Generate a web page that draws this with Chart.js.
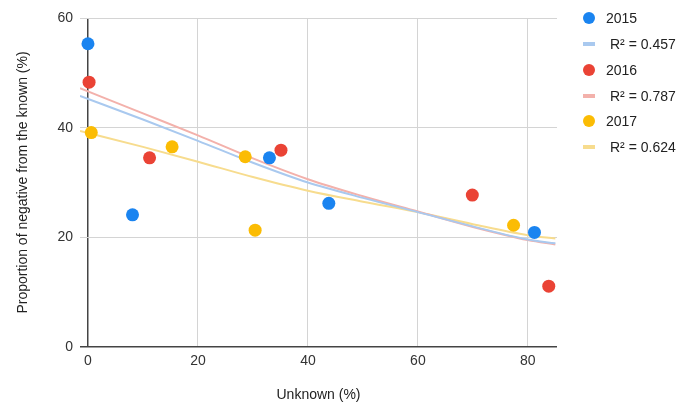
<!DOCTYPE html>
<html>
<head>
<meta charset="utf-8">
<script src="https://cdn.jsdelivr.net/npm/chart.js@4/dist/chart.umd.min.js"></script>
<style>
  body { margin: 0; background: #fff; font-family: 'Liberation Sans', Arial, sans-serif; }
  #wrap { position: relative; width: 677px; height: 406px; }
  #legend { position: absolute; left: 580px; top: 0; font-size: 14px; color: #222; }
  .item { position: absolute; white-space: nowrap; height: 20px; line-height: 20px; }
  .dot { position: absolute; left: 3px; top: 4px; width: 12px; height: 12px; border-radius: 50%; }
  .bar { position: absolute; left: 3px; top: 8px; width: 12px; height: 4px; }
  .lbl { position: absolute; left: 26px; }
  .lbl2 { position: absolute; left: 30px; }
</style>
</head>
<body>
<div id="wrap">
  <canvas id="myChart" width="677" height="406"></canvas>
  <div id="legend"></div>
</div>
<script>
// data
const years = ['2015', '2016', '2017']
const r2 = ['0.457', '0.787', '0.624']

const x2015 = [0, 8.1, 33.0, 43.8, 81.2]
const y2015 = [55.3, 24.1, 34.5, 26.2, 20.9]
const x2016 = [0.2, 11.2, 35.1, 69.9, 83.8]
const y2016 = [48.3, 34.5, 35.9, 27.7, 11.1]
const x2017 = [0.6, 15.3, 28.6, 30.4, 77.4]
const y2017 = [39.1, 36.5, 34.7, 21.3, 22.2]

// trendlines
const trendX = [-1.45, 10, 20, 30, 40, 50, 60, 70, 80, 85]
const trend2015 = [45.8, 41.5, 37.6, 33.6, 30.0, 27.2, 24.6, 22.0, 19.6, 18.9]
const trend2016 = [47.2, 42.6, 38.6, 34.4, 30.6, 27.5, 24.7, 21.9, 19.5, 18.7]
const trend2017 = [39.4, 36.5, 33.8, 31.0, 28.5, 26.5, 24.6, 22.4, 20.4, 19.8]

const xTicks = [0, 20, 40, 60, 80]
const yTicks = [0, 20, 40, 60]

const dotColors = ['#1a84f0', '#ea4335', '#fbbc04']
const trendColors = ['#a9c9ef', '#f3b1ab', '#f7dc8e']

let pts = (xs, ys) => xs.map((x, i) => ({ x: x, y: ys[i] }))

let xs = [x2015, x2016, x2017]
let ys = [y2015, y2016, y2017]
let trends = [trend2015, trend2016, trend2017]

let datasets = []
for (let i = 0; i < 3; i++) {
  datasets.push({
    label: years[i],
    data: pts(xs[i], ys[i]),
    showLine: false,
    pointRadius: 6.5,
    pointBackgroundColor: dotColors[i],
    pointBorderWidth: 0,
    order: 0
  })
  datasets.push({
    label: 'R² = ' + r2[i],
    data: pts(trendX, trends[i]),
    showLine: true,
    borderColor: trendColors[i],
    borderWidth: 2,
    pointRadius: 0,
    cubicInterpolationMode: 'monotone',
    order: 1
  })
}

let axisColor = ctx => ctx.tick && ctx.tick.value === 0 ? '#444' : '#d4d4d4'
let axisWidth = ctx => ctx.tick && ctx.tick.value === 0 ? 1.5 : 1

new Chart(document.getElementById('myChart'), {
  type: 'scatter',
  data: { datasets: datasets },
  options: {
    responsive: false,
    animation: false,
    layout: { padding: { top: 18, right: 120, left: 0, bottom: 0 } },
    plugins: { legend: { display: false }, tooltip: { enabled: false } },
    scales: {
      x: {
        type: 'linear',
        min: -1.45,
        max: 85.3,
        afterBuildTicks: s => { s.ticks = xTicks.map(v => ({ value: v })) },
        afterFit: s => { s.height = 59 },
        grid: { color: axisColor, lineWidth: axisWidth, drawTicks: false },
        border: { display: false },
        ticks: { color: '#333', padding: 6, font: { size: 14, family: "'Liberation Sans', Arial" } },
        title: {
          display: true, text: 'Unknown (%)', color: '#222',
          font: { size: 14, family: "'Liberation Sans', Arial" },
          padding: { top: 0, bottom: 2 }
        }
      },
      y: {
        min: 0,
        max: 60,
        afterBuildTicks: s => { s.ticks = yTicks.map(v => ({ value: v })) },
        afterFit: s => { s.width = 80 },
        grid: { color: axisColor, lineWidth: axisWidth, drawTicks: false },
        border: { display: false },
        ticks: { color: '#333', padding: 7, font: { size: 14, family: "'Liberation Sans', Arial" } },
        title: {
          display: true, text: 'Proportion of negative from the known (%)', color: '#222',
          font: { size: 14, family: "'Liberation Sans', Arial" },
          padding: { top: 15, bottom: 0 }
        }
      }
    }
  }
})

// legend on the right
let legend = document.getElementById('legend')
let rowsY = [8, 34, 60, 86, 111, 137]
for (let i = 0; i < 3; i++) {
  let a = document.createElement('div')
  a.className = 'item'
  a.style.top = rowsY[i * 2] + 'px'
  a.innerHTML = '<span class="dot" style="background:' + dotColors[i] + '"></span><span class="lbl">' + years[i] + '</span>'
  legend.appendChild(a)
  let b = document.createElement('div')
  b.className = 'item'
  b.style.top = rowsY[i * 2 + 1] + 'px'
  b.innerHTML = '<span class="bar" style="background:' + trendColors[i] + '"></span><span class="lbl2">R² = ' + r2[i] + '</span>'
  legend.appendChild(b)
}
</script>
</body>
</html>
